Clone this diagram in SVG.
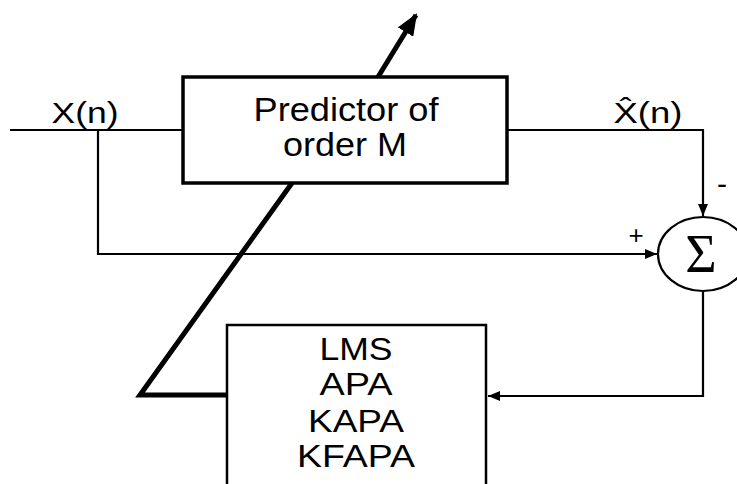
<svg xmlns="http://www.w3.org/2000/svg" width="737" height="484" viewBox="0 0 737 484">
<style>
.t{font-family:"Liberation Sans",Arial,sans-serif;fill:#000;text-anchor:middle}
.ln{fill:none;stroke:#000;stroke-width:2.2}
.thick{fill:none;stroke:#000;stroke-width:5;stroke-linejoin:miter}
.box{fill:#fff;stroke:#000}
</style>
<defs>
<marker id="ah" viewBox="0 0 12 10" refX="12" refY="5" markerWidth="12" markerHeight="10" markerUnits="userSpaceOnUse" orient="auto">
<path d="M0,0 L12,5 L0,10 Z" fill="#000"/>
</marker>
<marker id="bh" viewBox="0 0 22 18" refX="20" refY="9" markerWidth="22" markerHeight="18" markerUnits="userSpaceOnUse" orient="auto">
<path d="M0,0 L22,9 L0,18 Z" fill="#000"/>
</marker>
</defs>
<g id="connectors">
<path class="ln" d="M10,130 H183"/>
<path class="ln" d="M98,130 V254 H657" marker-end="url(#ah)"/>
<path class="ln" d="M507,130 H703 V216" marker-end="url(#ah)"/>
<path class="ln" d="M703,291 V396 H488" marker-end="url(#ah)"/>
<path class="thick" d="M227,395 H140 L292,183"/>
<path class="thick" d="M378,77 L416,15" marker-end="url(#bh)"/>
</g>
<g id="predictor">
<rect class="box" x="183" y="77" width="324" height="106" stroke-width="3.5"/>
<text class="t" x="346" y="121" font-size="34" textLength="185" lengthAdjust="spacingAndGlyphs">Predictor of</text>
<text class="t" x="345" y="156" font-size="34" textLength="124" lengthAdjust="spacingAndGlyphs">order M</text>
</g>
<g id="adaptive">
<rect class="box" x="227" y="325" width="259" height="170" stroke-width="2.5"/>
<text class="t" x="356" y="360" font-size="31" textLength="73" lengthAdjust="spacingAndGlyphs">LMS</text>
<text class="t" x="356" y="395" font-size="31" textLength="73" lengthAdjust="spacingAndGlyphs">APA</text>
<text class="t" x="356" y="432" font-size="31" textLength="96" lengthAdjust="spacingAndGlyphs">KAPA</text>
<text class="t" x="356" y="467" font-size="31" textLength="118" lengthAdjust="spacingAndGlyphs">KFAPA</text>
</g>
<g id="sum">
<ellipse cx="703" cy="254" rx="45" ry="37" fill="#fff" stroke="#000" stroke-width="2.2"/>
<text x="701" y="272" font-family="Liberation Serif,'Times New Roman',serif" font-size="54" text-anchor="middle">Σ</text>
</g>
<g id="labels">
<text class="t" x="85" y="123" font-size="29" textLength="67" lengthAdjust="spacingAndGlyphs">X(n)</text>
<text class="t" x="648" y="123" font-size="29" textLength="69" lengthAdjust="spacingAndGlyphs">X̂(n)</text>
<text class="t" x="636" y="244" font-size="26">+</text>
<text class="t" x="722" y="194" font-size="30">-</text>
</g>
</svg>
